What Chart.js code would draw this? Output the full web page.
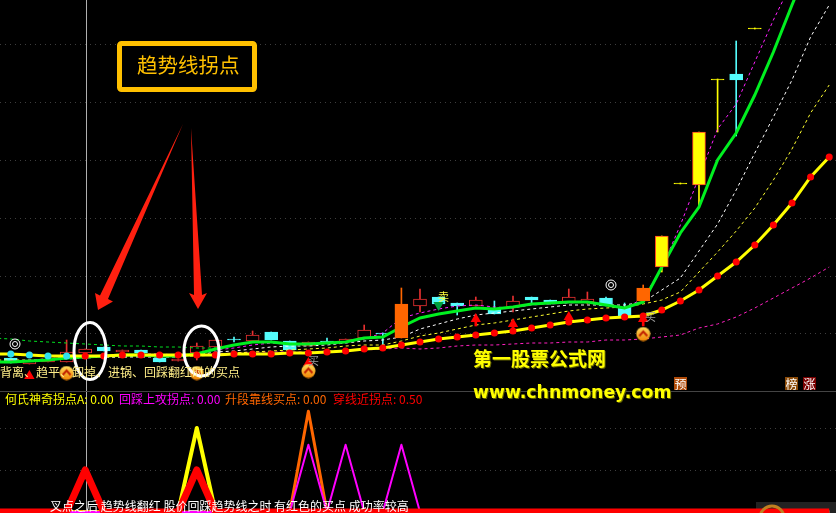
<!DOCTYPE html>
<html>
<head>
<meta charset="utf-8">
<script src="https://cdn.jsdelivr.net/npm/chart.js@4"></script>
<style>
  html, body { margin: 0; background: #000; }
  #page { position: relative; width: 836px; height: 513px; overflow: hidden; background: #000;
          font-family: "Noto Sans CJK SC", sans-serif; }
  canvas { position: absolute; left: 0; }
  svg { position: absolute; left: 0; top: 0; }
  .t { position: absolute; white-space: pre; line-height: 16px; font-size: 12px; }
  .badge { position: absolute; top: 377px; width: 13px; height: 13px; line-height: 13px; font-size: 12px;
           color: #fff; text-align: center; }
  #sep { position: absolute; left: 0; top: 391px; width: 836px; height: 1px; background: #444; }
  #logo { position: absolute; left: 756px; top: 502px; width: 80px; height: 11px; background: #222; }
</style>
</head>
<body>
<div id="page">
  <canvas id="priceChart" width="836" height="391" style="top:0"></canvas>
  <div id="logo"></div>
  <canvas id="signalChart" width="836" height="122" style="top:391px"></canvas>
  <div id="sep"></div>

  <svg width="836" height="513">
    <polygon points="183,124 108,299 113,301.5 98,310 95,293 100,295.5" fill="#ff2010"/>
    <polygon points="191,128 202,295 207,293 198,309 189,293 194,295" fill="#ff2010"/>
    <ellipse cx="90" cy="351" rx="16" ry="28.5" fill="none" stroke="#fff" stroke-width="3"/>
    <ellipse cx="201.5" cy="351" rx="17.5" ry="25" fill="none" stroke="#fff" stroke-width="3"/>
    <rect x="119.5" y="43.5" width="135" height="46" rx="2" fill="none" stroke="#ffc000" stroke-width="5"/>
    <circle cx="15" cy="344" r="5" fill="none" stroke="#fff"/>
    <circle cx="15" cy="344" r="2.5" fill="none" stroke="#fff"/>
    <circle cx="611" cy="285" r="5" fill="none" stroke="#fff"/>
    <circle cx="611" cy="285" r="2.5" fill="none" stroke="#fff"/>
    <circle cx="772" cy="518" r="12" fill="none" stroke="#c08020" stroke-width="3"/>
  </svg>

  <div class="t" style="left:137px;top:50px;font-size:20.5px;line-height:28px;color:#ffc000">趋势线拐点</div>
  <div class="t" style="left:0;top:364px;color:#ffee88">背离、趋平、卸掉、进锅、回踩翻红时的买点</div>
  <div class="t" style="left:308px;top:352px;font-size:11px;color:#999">买</div>
  <div class="t" style="left:645px;top:308px;font-size:11px;color:#999">买</div>
  <div class="t" style="left:438px;top:288px;font-size:11px;color:#ffff40">卖</div>

  <div class="t" style="left:5px;top:391px;color:#ffff00">何氏神奇拐点A: 0.00</div>
  <div class="t" style="left:119px;top:391px;color:#ff00ff">回踩上攻拐点: 0.00</div>
  <div class="t" style="left:225px;top:391px;color:#ff6600">升段靠线买点: 0.00</div>
  <div class="t" style="left:333px;top:391px;color:#ff0000">穿线近拐点: 0.50</div>

  <div class="t" style="left:473px;top:344px;font-size:19px;line-height:28px;font-weight:bold;color:#ffff00;text-shadow:1px 1px 0 #606000">第一股票公式网</div>
  <div class="t" style="left:473px;top:378px;font-family:'DejaVu Sans';font-size:17.3px;line-height:28px;font-weight:bold;color:#ffff00;text-shadow:1px 1px 0 #606000">www.chnmoney.com</div>

  <div class="badge" style="left:674px;background:#b04a08">预</div>
  <div class="badge" style="left:785px;background:#8a4a08">榜</div>
  <div class="badge" style="left:803px;background:#7a0000">涨</div>

  <div class="t" style="left:50px;top:498px;color:#fff">叉点之后 趋势线翻红 股价回踩趋势线之时 有红色的买点 成功率较高</div>
</div>

<script>
// bar numbers, -1 is the bar just off the left edge
const bars = [-1,0,1,2,3,4,5,6,7,8,9,10,11,12,13,14,15,16,17,18,19,20,21,22,23,24,25,26,27,28,29,30,31,32,33,34,35,36,37,38,39,40,41,42,43,44];

const opens  = [null,30,24,26,26,35,41,36,38,30,27,35,41,49,47,56,47,42,47,46,50,55,50,82,91,85,82,79,81,91,88,86,86,90,81,87,121,204,203,308,314,359];
const closes = [null,25,28,29,36,39,37,38,35,26,29,42,48,48,53,48,38,46,45,49,58,54,84,89,84,82,88,74,87,88,84,91,89,82,71,100,152,205,256,309,308,360];
const highs  = [null,30,28,29,48,39,41,38,38,30,29,45,48,51,57,56,47,46,50,49,63,55,100,99,91,85,91,87,92,91,88,99,96,91,85,103,152,205,256,309,347,360];
const lows   = [null,25,24,26,26,30,37,36,35,26,27,28,41,46,47,48,38,42,45,46,50,43,50,76,84,73,82,74,76,85,84,86,84,82,71,87,116,204,181,256,252,359];
// the big orange and yellow bars sit on top of the averages
const strongBars = [21,34,35,36,37,38,40];
const orangeBars = [21,34];

// averages
const slowLine = [34,34,33,32,32,32,32,33,33,33,33,33,33,34,34,34,35,35,36,37,39,40,43,46,49,51,53,55,57,60,63,66,68,70,71,72,78,87,98,112,126,143,163,185,211,231];
const trendLine = [26,26,27,28,30,31,32,33,33,32,32,34,39,43,46,46,44,44,45,46,50,51,61,70,74,77,80,79,81,84,85,86,86,83,80,86,121,155,181,228,255,293,336,383,428,473];
const whiteLine = [26,26,27,28,29,30,31,31,31,31,31,33,36,37,39,41,42,42,43,45,47,48,51,59,64,69,73,75,77,79,81,83,83,83,83,86,98,110,137,164,198,235,271,308,351,383];
const amberLine = [28,28,28,29,30,31,31,31,32,32,32,32,33,35,36,37,38,39,40,42,43,43,47,52,55,59,63,65,68,71,74,77,79,80,81,84,88,96,116,136,157,180,208,239,275,303];
const pinkUpper = [26,27,28,29,31,32,32,33,34,34,33,34,38,40,43,45,44,44,45,45,49,55,70,75,79,82,83,81,80,83,84,85,86,83,79,90,120,163,211,259,284,326,368,406,448,null];
const pinkLower = [null,null,null,null,null,null,null,null,null,null,null,32,34,35,36,36,36,36,37,37,38,39,40,39,40,42,43,43,44,45,45,46,46,48,48,49,51,53,60,64,71,80,90,100,110,121];
const greenDash = [50,49,47,46,45,44,43,42,42,41,41,40,40];
const turnBar = 4; // first red dot on the slow line, also where the cursor sits
const priceGrid = [55,112,170,228,286,344];

// signals on the price panel
const arrowBars = [16,25,27,30,34];
const arrowTips = [31,75,70,77,75];
const arrowTails = [21,62,57,68,62];
const buyBars = [3,10,16,34];
const buyLevels = [15,15,17,54];
const downBar = 23;
const downLevel = 83;
const warnBar = 1;
const warnLevel = 12;

// lower panel, everything not listed is 0
const signalGrid = [0.5,1];
const redBars = [4,10];
const redValues = [0.5,0.5];
const yellowBars = [10];
const yellowValues = [1];
const orangeSignalBars = [16];
const orangeValues = [1.2];
const pinkBars = [16,18,21];
const pinkValues = [0.8,0.8,0.8];

function atBars(list, vals, blank) {
  return bars.map(b => {
    const i = list.indexOf(b);
    return i < 0 ? blank : vals[i];
  });
}

const candlePairs = bars.map((b, i) => opens[i] == null ? null : [opens[i], closes[i]]);
const wickPairs = bars.map((b, i) => highs[i] == null ? null : [lows[i], highs[i]]);
const pickBodies = strong => candlePairs.map((p, i) => strongBars.includes(bars[i]) === strong ? p : null);

function barColor(i) {
  const b = bars[i];
  if (orangeBars.includes(b)) return '#ff6600';
  if (strongBars.includes(b)) return '#ffff00';
  return closes[i] > opens[i] ? '#e83030' : '#54fcfc';
}
function bodyFill(ctx) {
  const i = ctx.dataIndex;
  if (strongBars.includes(bars[i])) return barColor(i);
  return closes[i] > opens[i] ? '#000' : '#54fcfc';
}
function bodyEdge(ctx) {
  const i = ctx.dataIndex;
  if (strongBars.includes(bars[i]) && Math.abs(closes[i] - opens[i]) > 5 && !orangeBars.includes(bars[i])) return '#ff4020';
  return barColor(i);
}

function dashed(data, color, order) {
  return { type: 'line', data, borderColor: color, borderWidth: 1, borderDash: [3, 3], pointRadius: 0, order };
}

// gold round buy mark
const buyIcon = document.createElement('canvas');
buyIcon.width = 15;
buyIcon.height = 15;
(function () {
  const c = buyIcon.getContext('2d');
  const g = c.createLinearGradient(0, 0, 0, 15);
  g.addColorStop(0, '#ffe060');
  g.addColorStop(1, '#f08000');
  c.fillStyle = g;
  c.beginPath();
  c.arc(7.5, 7.5, 7, 0, Math.PI * 2);
  c.fill();
  c.strokeStyle = '#c02000';
  c.lineWidth = 2;
  c.beginPath();
  c.moveTo(3.5, 9.5);
  c.lineTo(7.5, 5);
  c.lineTo(11.5, 9.5);
  c.stroke();
})();

// grey cursor line across both panels
const cursorPlugin = {
  id: 'cursor',
  beforeDatasetsDraw(chart) {
    const x = Math.round(chart.scales.x.getPixelForValue(turnBar)) + 1.5;
    const c = chart.ctx;
    c.save();
    c.strokeStyle = '#b0b0b0';
    c.lineWidth = 1;
    c.beginPath();
    c.moveTo(x, 0);
    c.lineTo(x, chart.height);
    c.stroke();
    c.restore();
  }
};

function panelOptions(yMin, yMax, gridValues) {
  return {
    responsive: false,
    animation: false,
    layout: { padding: 0, autoPadding: false },
    plugins: { legend: { display: false }, tooltip: { enabled: false } },
    scales: {
      x: { type: 'linear', min: -0.5806, max: 44.366, offset: false, display: false },
      y: {
        min: yMin,
        max: yMax,
        afterBuildTicks(s) { s.ticks = gridValues.map(v => ({ value: v })); },
        afterFit(s) { s.width = 0; },
        ticks: { display: false },
        grid: { color: '#3e3e3e', lineWidth: 1, drawTicks: false },
        border: { display: false, dash: [1, 4] }
      }
    }
  };
}

new Chart(document.getElementById('priceChart').getContext('2d'), {
  data: {
    labels: bars,
    datasets: [
      { type: 'line', data: atBars(buyBars, buyLevels, null), showLine: false, pointStyle: buyIcon, order: 0 },
      { type: 'line', data: atBars([warnBar], [warnLevel], null), showLine: false, pointStyle: 'triangle', pointRadius: 6, pointBackgroundColor: '#ff0000', pointBorderWidth: 0, order: 0 },
      { type: 'line', data: atBars([downBar], [downLevel], null), showLine: false, pointStyle: 'triangle', rotation: 180, pointRadius: 6, pointBackgroundColor: '#00a040', pointBorderWidth: 0, order: 0 },
      { type: 'line', data: atBars(arrowBars, arrowTips.map(t => t - 6), null), showLine: false, pointStyle: 'triangle', pointRadius: 6, pointBackgroundColor: '#ff0000', pointBorderWidth: 0, order: 1 },
      { type: 'bar', data: atBars(arrowBars, arrowTails.map((t, i) => [t, arrowTips[i] - 6]), null), backgroundColor: '#ff0000', barThickness: 2, grouped: false, order: 1 },
      { type: 'bar', data: pickBodies(true), backgroundColor: bodyFill, borderColor: bodyEdge, borderWidth: 1, borderSkipped: false, barThickness: 13, grouped: false, order: 2 },
      { type: 'line', data: slowLine, borderColor: '#ffff00', borderWidth: 3, pointRadius: 3.5, pointBorderWidth: 0,
        pointBackgroundColor: ctx => bars[ctx.dataIndex] < 0 ? 'transparent' : bars[ctx.dataIndex] < turnBar ? '#30e0f0' : '#ff0000', order: 3 },
      { type: 'line', data: trendLine, borderColor: '#00f020', borderWidth: 3, pointRadius: 0, order: 4 },
      dashed(pinkUpper, '#ff20ff', 5),
      dashed(whiteLine, '#ffffff', 6),
      dashed(amberLine, '#ffff30', 7),
      dashed(pinkLower, '#ff20c0', 8),
      dashed(greenDash, '#00e020', 9),
      { type: 'bar', data: pickBodies(false), backgroundColor: bodyFill, borderColor: bodyEdge, borderWidth: 1, borderSkipped: false, barThickness: 13, grouped: false, order: 10 },
      { type: 'bar', data: wickPairs, backgroundColor: ctx => barColor(ctx.dataIndex), barThickness: 1, grouped: false, order: 11 }
    ]
  },
  options: panelOptions(-3, 388, priceGrid),
  plugins: [cursorPlugin]
});

new Chart(document.getElementById('signalChart').getContext('2d'), {
  data: {
    labels: bars,
    datasets: [
      { type: 'line', data: atBars(redBars, redValues, 0), borderColor: '#ff0000', borderWidth: 7, pointRadius: 0, borderJoinStyle: 'round', order: 0 },
      { type: 'line', data: atBars(orangeSignalBars, orangeValues, 0), borderColor: '#ff6600', borderWidth: 3, pointRadius: 0, borderJoinStyle: 'round', order: 2 },
      { type: 'line', data: atBars(pinkBars, pinkValues, 0), borderColor: '#ff00ff', borderWidth: 2, pointRadius: 0, borderJoinStyle: 'round', order: 1 },
      { type: 'line', data: atBars(yellowBars, yellowValues, 0), borderColor: '#ffff00', borderWidth: 4, pointRadius: 0, borderJoinStyle: 'round', order: 3 }
    ]
  },
  options: panelOptions(-0.0119, 1.4405, signalGrid),
  plugins: [cursorPlugin]
});
</script>
</body>
</html>
